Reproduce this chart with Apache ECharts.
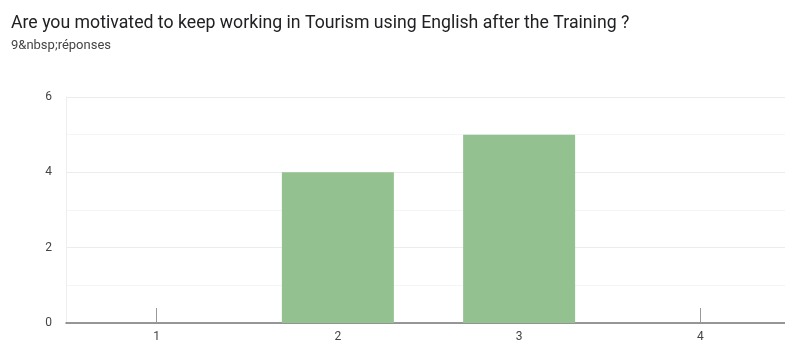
<!DOCTYPE html>
<html>
<head>
<meta charset="utf-8">
<script src="https://cdn.jsdelivr.net/npm/echarts@6/dist/echarts.min.js"></script>
<style>
	html,body{margin:0;padding:0;background:#fff;}
	#chart{width:785px;height:345px;}
</style>
</head>
<body>
<div id="chart"></div>
<script>
	//数据
	var titleText = 'Are you motivated to keep working in Tourism using English after the Training ?';
	var subText = '9&nbsp;réponses';
	var categories = ['1', '2', '3', '4'];
	var counts = [0, 4, 5, 0];
	var yTicks = [0, 2, 4, 6];

	var chart = echarts.init(document.getElementById('chart'));
	var option = {
		animation: false,
		title: {
			text: titleText,
			subtext: subText,
			left: 6,
			top: 10,
			itemGap: 6,
			textStyle: {fontFamily: 'Roboto', fontSize: 17.7, fontWeight: 'normal', color: '#202124'},
			subtextStyle: {fontFamily: 'Roboto', fontSize: 13, color: '#444'}
		},
		grid: {left: 66, width: 725, top: 97, bottom: 22, containLabel: false, outerBoundsMode: 'none'},
		xAxis: {
			type: 'category',
			data: categories,
			axisLine: {lineStyle: {color: '#777', width: 1.5}},
			axisTick: {show: true, alignWithLabel: true, inside: true, length: 15, lineStyle: {color: '#999'}},
			axisLabel: {fontFamily: 'Roboto', fontSize: 12, color: '#444', margin: 8}
		},
		yAxis: {
			type: 'value',
			min: yTicks[0],
			max: yTicks[yTicks.length - 1],
			interval: 2,
			axisLine: {show: true, lineStyle: {color: '#eee'}},
			axisTick: {show: false},
			axisLabel: {fontFamily: 'Roboto', fontSize: 12, color: '#444', margin: 14},
			splitLine: {lineStyle: {color: '#ececec'}},
			minorTick: {show: false, splitNumber: 2},
			minorSplitLine: {show: true, lineStyle: {color: '#f5f5f5'}}
		},
		series: [{
			type: 'bar',
			data: counts,
			barWidth: 112,
			itemStyle: {color: '#93c18f'}
		}]
	};
	chart.setOption(option);
</script>
</body>
</html>
